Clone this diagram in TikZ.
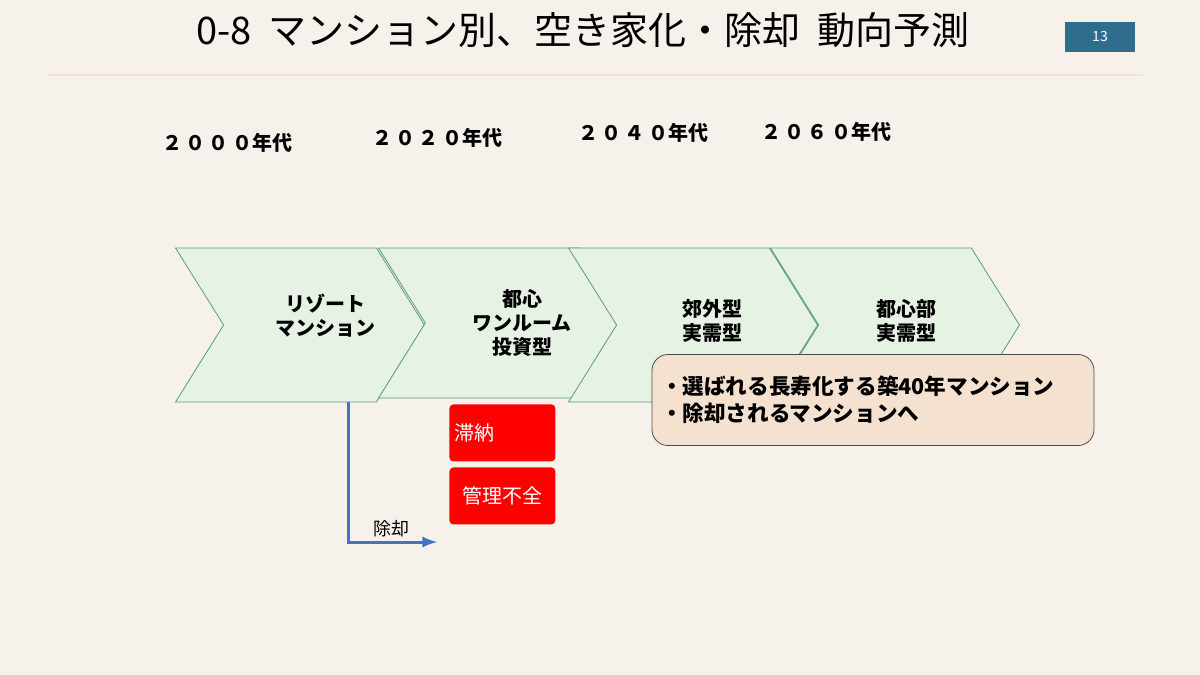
\documentclass[tikz,border=0pt]{standalone}
\usepackage{fontspec}
\setmainfont{Noto Sans CJK JP}
\usetikzlibrary{shapes.symbols, positioning}
\definecolor{bg}{HTML}{F6F1EA}
\definecolor{chev}{HTML}{E6F2E3}
\definecolor{chevline}{HTML}{5A9E78}
\definecolor{note}{HTML}{F5E1CF}
\definecolor{pagebox}{HTML}{2F6D8E}
\definecolor{arrowblue}{HTML}{4472C4}
\tikzstyle{stage} = [signal, signal to=east, signal from=west, signal pointer angle=116,
                     fill=chev, draw=chevline, line width=0.4pt, minimum width=124.5pt,
                     minimum height=77pt, inner sep=0, align=center]
\tikzstyle{label} = [font=\bfseries\fontsize{10}{12}\selectfont, align=center]
\tikzstyle{year} = [font=\bfseries\fontsize{10}{12}\selectfont, anchor=center]
\tikzstyle{warn} = [fill=red, rounded corners=2pt, minimum width=53pt, minimum height=28.5pt,
                    text=white, font=\fontsize{10}{12}\selectfont, inner sep=0]
\begin{document}
\begin{tikzpicture}[x=0.5pt, y=-0.5pt]
				\fill[bg] (0,0) rectangle (1200,675);
				\useasboundingbox (0,0) rectangle (1200,675);

				\node (Title) at (583,30) {\fontsize{19}{22}\selectfont 0-8\ \ マンション別、空き家化・除却\ \ 動向予測};
				\node (Page) [fill=pagebox, text=white, minimum width=35pt, minimum height=15pt,
				              font=\fontsize{7}{8}\selectfont] at (1100,37) {13};
				\coordinate (RuleL) at (47,75);
				\coordinate (RuleR) at (1143,75);
				\draw[color=note!80!bg, line width=0.6pt] (RuleL) -- (RuleR);

				% years
				\node (Y2000) [year] at (227,143) {２\,０\,０\,０年代};
				\node (Y2020) [year] at (437,138) {２\,０\,２\,０年代};
				\node (Y2040) [year] at (643,133) {２\,０\,４\,０年代};
				\node (Y2060) [year] at (826,132) {２\,０\,６\,０年代};

				% stages
				\node (Resort) [stage] at (300,325) {};
				\node (Central) [stage, minimum height=75pt] at (503,323) {};
				\node (Suburb) [stage] at (693,325) {};
				\node (Urban) [stage] at (895,325) {};
				\node (ResortText) [label] at (325,316) {リゾート\\マンション};
				\node (CentralText) [label] at (522,323) {都心\\ワンルーム\\投資型};
				\node (SuburbText) [label] at (712,321) {郊外型\\実需型};
				\node (UrbanText) [label] at (906,321) {都心部\\実需型};

				% outlook
				\node (Note) [fill=note, draw=black!70, rounded corners=8pt, minimum width=221pt,
				              minimum height=45.5pt, align=left, text width=212pt,
				              font=\bfseries\fontsize{10.8}{13.5}\selectfont] at (873,400)
				     {・選ばれる長寿化する築40年マンション\\・除却されるマンションへ};

				% problems
				\node (Arrears) [warn, anchor=north west, text width=48pt] at (449,404) {滞納};
				\node (Mgmt) [warn, anchor=north west, align=center] at (449,467) {管理不全};

				% demolition
				\coordinate (Drop) at (348,402);
				\coordinate (Corner) at (348,542);
				\coordinate (DemEnd) at (437,542);
				\draw[arrowblue, line width=1.5pt, -latex] (Drop) -- (Corner) -- (DemEnd);
				\node (Demolish) [font=\fontsize{9}{10}\selectfont] at (391,529) {除却};
			\end{tikzpicture}
\end{document}
